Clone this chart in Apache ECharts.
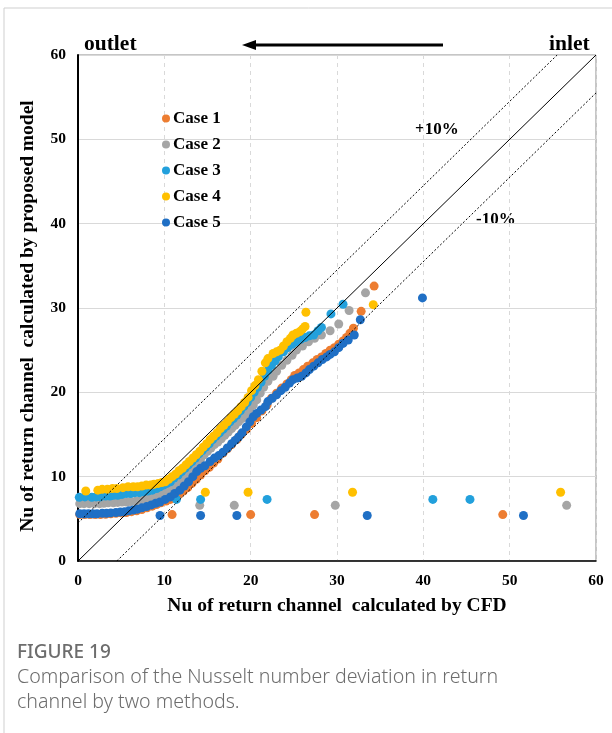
<!DOCTYPE html>
<html>
<head>
<meta charset="utf-8">
<script src="https://cdn.jsdelivr.net/npm/echarts@6/dist/echarts.min.js"></script>
<style>
html,body{margin:0;padding:0;background:#fff;}
#c{width:612px;height:733px;}
</style>
</head>
<body>
<div id="c"></div>
<script>
// ---- Data ----
const seriesNames = ['Case 1', 'Case 2', 'Case 3', 'Case 4', 'Case 5'];
const xTicks = [0, 10, 20, 30, 40, 50, 60];
const yTicks = [0, 10, 20, 30, 40, 50, 60];

const case1 = [
  [0.2,5.5],[0.8,5.5],[1.4,5.5],[2.0,5.5],[2.6,5.5],[3.2,5.55],[3.8,5.6],[4.4,5.65],[5.0,5.7],[5.6,5.75],
  [6.2,5.85],[6.8,5.95],[7.4,6.1],[8.0,6.3],[8.6,6.5],[9.1,6.7],[9.6,6.9],[10.2,7.1],[10.7,7.3],[11.2,7.6],
  [11.7,7.9],[12.2,8.3],[12.7,8.7],[13.2,9.2],[13.7,9.7],[14.2,10.2],[14.7,10.7],[15.2,11.1],[15.7,11.6],[16.2,12.1],
  [16.8,12.8],[17.3,13.3],[17.8,13.8],[18.4,14.4],[18.9,15.0],[19.5,15.6],[20.1,16.3],[20.7,17.0],[21.3,17.8],[21.9,18.5],
  [22.4,19.3],[23.0,19.9],[23.6,20.5],[24.2,21.0],[24.7,21.5],[25.1,22.0],[25.6,22.3],[26.1,22.7],[26.6,23.1],[27.2,23.5],
  [27.7,23.9],[28.2,24.2],[28.7,24.6],[29.2,25.0],[29.7,25.3],[30.2,25.7],[30.7,26.1],[31.1,26.5],[31.5,27.0],[31.9,27.6],
  [32.8,29.6],[34.3,32.6],
  [10.9,5.5],[20.0,5.5],[27.4,5.5],[49.2,5.5]
];
const case2 = [
  [0.2,6.8],[0.7,6.8],[1.3,6.8],[1.9,6.8],[2.5,6.8],[3.0,6.85],[3.5,6.9],[4.1,6.9],[4.6,6.95],[5.1,7.0],
  [5.6,7.0],[6.1,7.05],[6.7,7.1],[7.2,7.2],[7.7,7.35],[8.2,7.5],[8.7,7.7],[9.2,7.85],[9.6,8.0],[10.0,8.1],
  [10.5,8.3],[11.0,8.5],[11.4,8.8],[11.8,9.2],[12.2,9.6],[12.6,10.1],[13.0,10.6],[13.4,11.1],[13.8,11.6],[14.2,12.1],
  [14.6,12.6],[15.0,13.0],[15.4,13.4],[15.8,13.8],[16.2,14.1],[16.6,14.5],[17.0,14.9],[17.4,15.3],[17.8,15.7],[18.2,16.1],
  [18.6,16.5],[19.0,16.9],[19.4,17.3],[19.9,17.9],[20.3,18.5],[20.7,19.1],[21.1,19.9],[21.5,20.6],[22.0,21.3],[22.6,21.9],
  [23.0,22.5],[23.6,23.2],[24.2,23.8],[24.8,24.4],[25.3,25.0],[26.0,25.5],[26.7,26.0],[27.4,26.4],[28.2,26.8],[29.2,27.3],
  [30.2,28.1],[31.4,29.7],[33.3,31.8],
  [14.1,6.6],[18.1,6.6],[29.8,6.6],[56.6,6.6]
];
const case3 = [
  [0.15,7.55],[0.8,7.6],[1.6,7.55],[2.1,7.6],[2.6,7.6],[3.2,7.7],[3.7,7.7],[4.1,7.8],[4.6,7.8],[5.1,7.9],
  [5.6,8.0],[6.1,8.0],[6.6,8.1],[7.1,8.1],[7.6,8.2],[8.1,8.3],[8.6,8.4],[9.1,8.6],[9.5,8.8],[9.9,9.0],
  [10.3,9.2],[10.7,9.4],[11.1,9.8],[11.6,10.2],[12.0,10.6],[12.4,11.0],[12.8,11.4],[13.2,11.8],[13.6,12.2],[14.0,12.7],
  [14.4,13.1],[14.8,13.5],[15.2,13.9],[15.6,14.4],[16.0,14.8],[16.4,15.2],[16.8,15.6],[17.2,16.0],[17.6,16.5],[18.0,16.9],
  [18.4,17.3],[18.8,17.8],[19.2,18.3],[19.6,18.8],[20.0,19.4],[20.4,20.0],[20.8,20.6],[21.2,21.2],[21.6,21.9],[22.0,22.6],
  [22.4,23.2],[22.8,23.7],[23.2,24.2],[23.8,24.8],[24.3,25.3],[24.8,25.7],[25.3,26.0],[25.8,26.3],[26.3,26.5],[26.8,26.7],
  [27.3,26.8],[27.8,27.3],[28.2,27.7],[29.3,29.3],[30.7,30.45],
  [11.4,7.3],[14.2,7.3],[21.9,7.3],[41.1,7.3],[45.4,7.3]
];
const case4 = [
  [0.9,8.3],[2.3,8.4],[2.8,8.5],[3.4,8.5],[4.0,8.6],[4.5,8.6],[5.2,8.7],[5.8,8.8],[6.4,8.8],[6.9,8.8],
  [7.4,8.9],[7.9,9.0],[8.4,9.0],[8.8,9.1],[9.3,9.2],[9.7,9.3],[10.1,9.4],[10.5,9.7],[10.9,10.0],[11.3,10.3],
  [11.7,10.7],[12.1,11.0],[12.5,11.4],[12.9,11.8],[13.3,12.2],[13.7,12.6],[14.1,13.0],[14.5,13.5],[14.9,13.9],[15.3,14.4],
  [15.7,14.8],[16.1,15.2],[16.5,15.7],[16.9,16.1],[17.3,16.5],[17.7,17.0],[18.1,17.4],[18.5,17.8],[18.9,18.3],[19.3,18.8],
  [19.7,19.4],[20.1,20.2],[20.5,20.8],[20.9,21.5],[21.3,22.5],[21.7,23.5],[22.0,24.0],[22.6,24.6],[23.0,24.8],[23.4,25.0],
  [23.8,25.5],[24.2,26.0],[24.6,26.4],[24.9,26.8],[25.3,27.0],[25.7,27.2],[26.0,27.5],[26.3,27.8],[26.4,29.5],[34.2,30.4],
  [14.75,8.15],[19.7,8.15],[31.8,8.15],[55.9,8.15]
];
const case5 = [
  [0.2,5.6],[0.7,5.6],[1.2,5.6],[1.7,5.6],[2.2,5.6],[2.8,5.65],[3.3,5.65],[3.8,5.7],[4.4,5.75],[4.9,5.8],
  [5.4,5.85],[5.9,5.95],[6.4,6.05],[6.9,6.15],[7.4,6.3],[7.95,6.45],[8.5,6.65],[9.0,6.85],[9.5,7.0],[10.1,7.3],
  [10.7,7.6],[11.2,8.0],[11.8,8.4],[12.3,8.9],[12.8,9.4],[13.3,10.0],[13.75,10.6],[14.2,11.0],[14.7,11.3],[15.3,11.8],
  [15.8,12.2],[16.3,12.5],[16.8,12.9],[17.3,13.4],[17.8,13.9],[18.2,14.3],[18.6,14.7],[19.0,15.2],[19.5,15.9],[19.9,16.5],
  [20.3,17.1],[20.7,17.5],[21.2,17.9],[21.7,18.3],[22.0,18.9],[22.5,19.3],[23.0,19.7],[23.5,20.2],[24.0,20.6],[24.5,21.1],
  [24.9,21.5],[25.4,21.7],[25.9,21.9],[26.4,22.3],[26.8,22.7],[27.3,23.1],[27.8,23.5],[28.3,23.9],[28.8,24.2],[29.2,24.5],
  [29.7,24.8],[30.2,25.3],[30.7,25.8],[31.3,26.2],[32.0,26.8],[32.7,28.6],[39.9,31.2],
  [9.5,5.4],[14.2,5.4],[18.4,5.4],[33.5,5.4],[51.6,5.4]
];
// reference lines: y = x, and the +/- band lines
const equalLine = [[0,0],[60,60]];
const upperLine = [[0,4.5],[55.5,60]];
const lowerLine = [[4.5,0],[60,55.5]];

const colors = ['#ED7D31', '#A5A5A5', '#22A0DC', '#FFC000', '#1F6FC5'];
const caseData = [case1, case2, case3, case4, case5];

const serif = '"Liberation Serif","Times New Roman",serif';
const sans = '"Noto Sans", "Open Sans", sans-serif';

const chart = echarts.init(document.getElementById('c'), null, {renderer: 'canvas'});

const series = [];
caseData.forEach((d, i) => {
  series.push({
    name: seriesNames[i], type: 'scatter', data: d,
    symbol: 'circle', symbolSize: 9,
    itemStyle: {color: colors[i], opacity: 1},
    z: 3, animation: false
  });
});
series.push({type: 'line', data: equalLine, symbol: 'none', lineStyle: {color: '#000', width: 1}, z: 4, animation: false, silent: true});
series.push({type: 'line', data: upperLine, symbol: 'none', lineStyle: {color: '#000', width: 1, type: [2, 2]}, z: 4, animation: false, silent: true});
series.push({type: 'line', data: lowerLine, symbol: 'none', lineStyle: {color: '#000', width: 1, type: [2, 2]}, z: 4, animation: false, silent: true});

const option = {
  animation: false,
  backgroundColor: '#fff',
  grid: {left: 78, top: 55, width: 518, height: 506, show: true, borderColor: '#8c8c8c', borderWidth: 1, backgroundColor: 'transparent'},
  xAxis: {
    type: 'value', min: xTicks[0], max: xTicks[xTicks.length - 1], interval: 10,
    name: 'Nu of return channel  calculated by CFD',
    nameLocation: 'middle', nameGap: 35,
    nameTextStyle: {fontFamily: serif, fontWeight: 'bold', fontSize: 19.5, color: '#000'},
    axisLine: {show: true, lineStyle: {color: '#000', width: 1.5}},
    axisTick: {show: false},
    axisLabel: {fontFamily: serif, fontWeight: 'bold', fontSize: 15.5, color: '#000', margin: 12},
    splitLine: {show: true, lineStyle: {color: '#d9d9d9', width: 1, type: [4, 4]}}
  },
  yAxis: {
    type: 'value', min: yTicks[0], max: yTicks[yTicks.length - 1], interval: 10,
    axisLine: {show: true, lineStyle: {color: '#000', width: 2}},
    axisTick: {show: false},
    axisLabel: {fontFamily: serif, fontWeight: 'bold', fontSize: 15.5, color: '#000', margin: 12},
    splitLine: {show: true, lineStyle: {color: '#d9d9d9', width: 1}}
  },
  legend: {
    data: seriesNames, orient: 'vertical', left: 157, top: 105,
    icon: 'circle', itemWidth: 8, itemHeight: 8, itemGap: 9,
    textStyle: {fontFamily: serif, fontWeight: 'bold', fontSize: 17, color: '#000', padding: [0,0,0,-2]},
    selectedMode: false
  },
  graphic: [
    {type: 'rect', shape: {x: 4, y: 8, width: 640, height: 760}, style: {fill: 'none', stroke: '#cfcfcf', lineWidth: 1}, silent: true, z: -10},
    {type: 'text', x: 28, y: 316, rotation: Math.PI / 2, style: {text: 'Nu of return channel  calculated by proposed model', font: 'bold 19.5px ' + serif, fill: '#000', align: 'center', verticalAlign: 'middle'}},
    {type: 'text', left: 84, top: 33, style: {text: 'outlet', font: 'bold 21.5px ' + serif, fill: '#000'}},
    {type: 'text', left: 549, top: 33, style: {text: 'inlet', font: 'bold 21.5px ' + serif, fill: '#000'}},
    {type: 'line', shape: {x1: 252, y1: 45, x2: 443, y2: 45}, style: {stroke: '#000', lineWidth: 3}},
    {type: 'polygon', shape: {points: [[242, 45], [256, 40], [256, 50]]}, style: {fill: '#000'}},
    {type: 'text', left: 415, top: 121, style: {text: '+10%', font: 'bold 17px ' + serif, fill: '#000'}},
    {type: 'text', left: 476, top: 211, style: {text: '-10%', font: 'bold 17px ' + serif, fill: '#000'}},
    {type: 'text', left: 17, top: 643, style: {text: 'FIGURE 19', font: '500 19px ' + sans, fill: '#6d6d6d'}},
    {type: 'text', left: 17, top: 667, style: {text: 'Comparison of the Nusselt number deviation in return', font: '300 19.6px ' + sans, fill: '#6d6d6d'}},
    {type: 'text', left: 17, top: 692, style: {text: 'channel by two methods.', font: '300 19.6px ' + sans, fill: '#6d6d6d'}}
  ],
  series: series
};
chart.setOption(option);
</script>
</body>
</html>
